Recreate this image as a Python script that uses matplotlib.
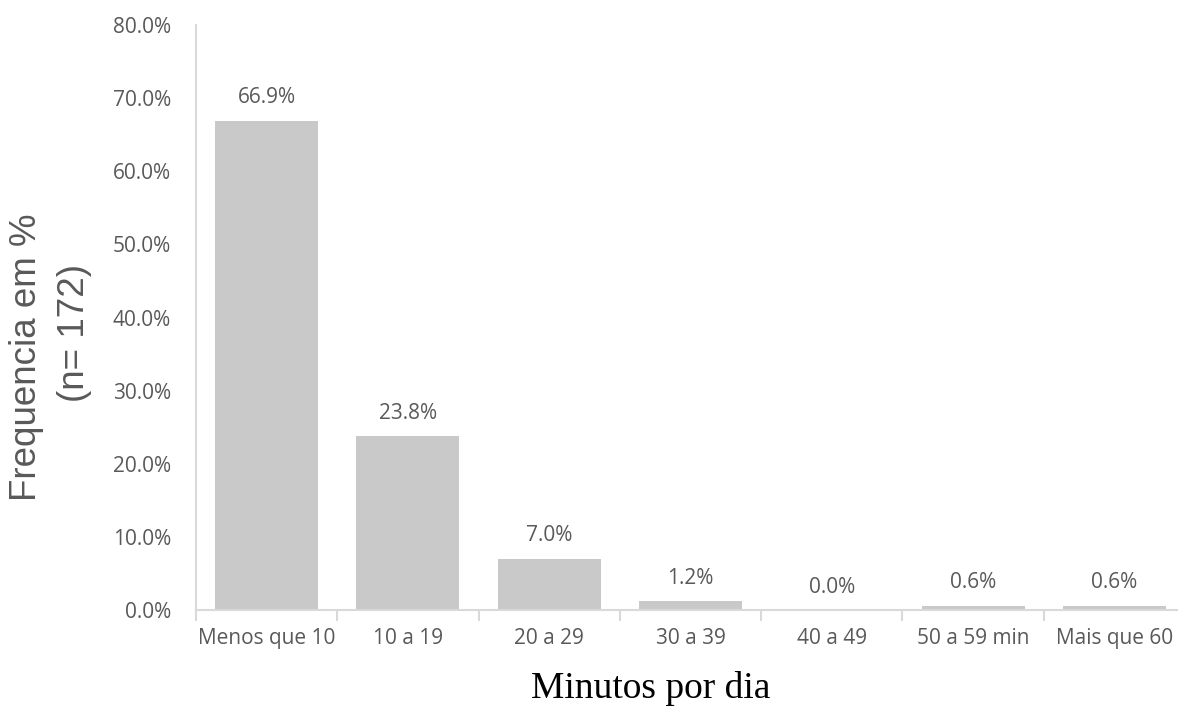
import matplotlib
matplotlib.use("Agg")
import matplotlib.pyplot as plt
import numpy as np

categories = ["Menos que 10", "10 a 19", "20 a 29", "30 a 39", "40 a 49", "50 a 59 min", "Mais que 60"]
percent = [66.9, 23.8, 7.0, 1.2, 0.0, 0.6, 0.6]
yticks = [0, 10, 20, 30, 40, 50, 60, 70, 80]

text_color = "#595959"
bar_color = "#c9c9c9"
axis_color = "#d9d9d9"

W, H = 1178, 707
fig = plt.figure(figsize=(W / 100, H / 100), dpi=100)
ax = fig.add_axes([196 / W, 1 - 610 / H, (1185 - 196) / W, (610 - 25) / H])

x = np.arange(len(categories))
ax.bar(x, percent, width=0.73, color=bar_color, zorder=2)

for xi, v in zip(x, percent):
    ax.annotate(f"{v:.1f}%", (xi, v), xytext=(0, 12.5), textcoords="offset points",
                ha="center", va="baseline", fontsize=15, family="Open Sans",
                color=text_color)

ax.set_xlim(-0.5, len(categories) - 0.5)
ax.set_ylim(0, 80)
ax.set_yticks(yticks)
ax.set_yticklabels([f"{t:.1f}%" for t in yticks], family="Open Sans", fontsize=15, color=text_color)
ax.set_xticks(x)
ax.set_xticklabels(categories, family="Open Sans", fontsize=15, color=text_color)
ax.tick_params(axis="y", length=0, pad=18)
ax.tick_params(axis="x", length=0, pad=13)

# separators between categories, extending below the axis
ax.set_xticks(np.arange(len(categories) + 1) - 0.5, minor=True)
ax.tick_params(axis="x", which="minor", length=8, color=axis_color, width=1.5)

for side in ["top", "right"]:
    ax.spines[side].set_visible(False)
for side in ["left", "bottom"]:
    ax.spines[side].set_color(axis_color)
    ax.spines[side].set_linewidth(1.5)

# axis titles
fig.text(27 / W, 1 - 357 / H, "Frequencia em %", rotation=90, ha="center", va="center",
         family="Liberation Sans", fontsize=26.5, color=text_color)
fig.text(75 / W, 1 - 333 / H, "(n= 172)", rotation=90, ha="center", va="center",
         family="Liberation Sans", fontsize=26.5, color=text_color)
fig.text(651 / W, 1 - 698 / H, "Minutos por dia", ha="center", va="baseline",
         family="Liberation Serif", fontsize=27, color="black")

fig.savefig("out.png", dpi=100)
